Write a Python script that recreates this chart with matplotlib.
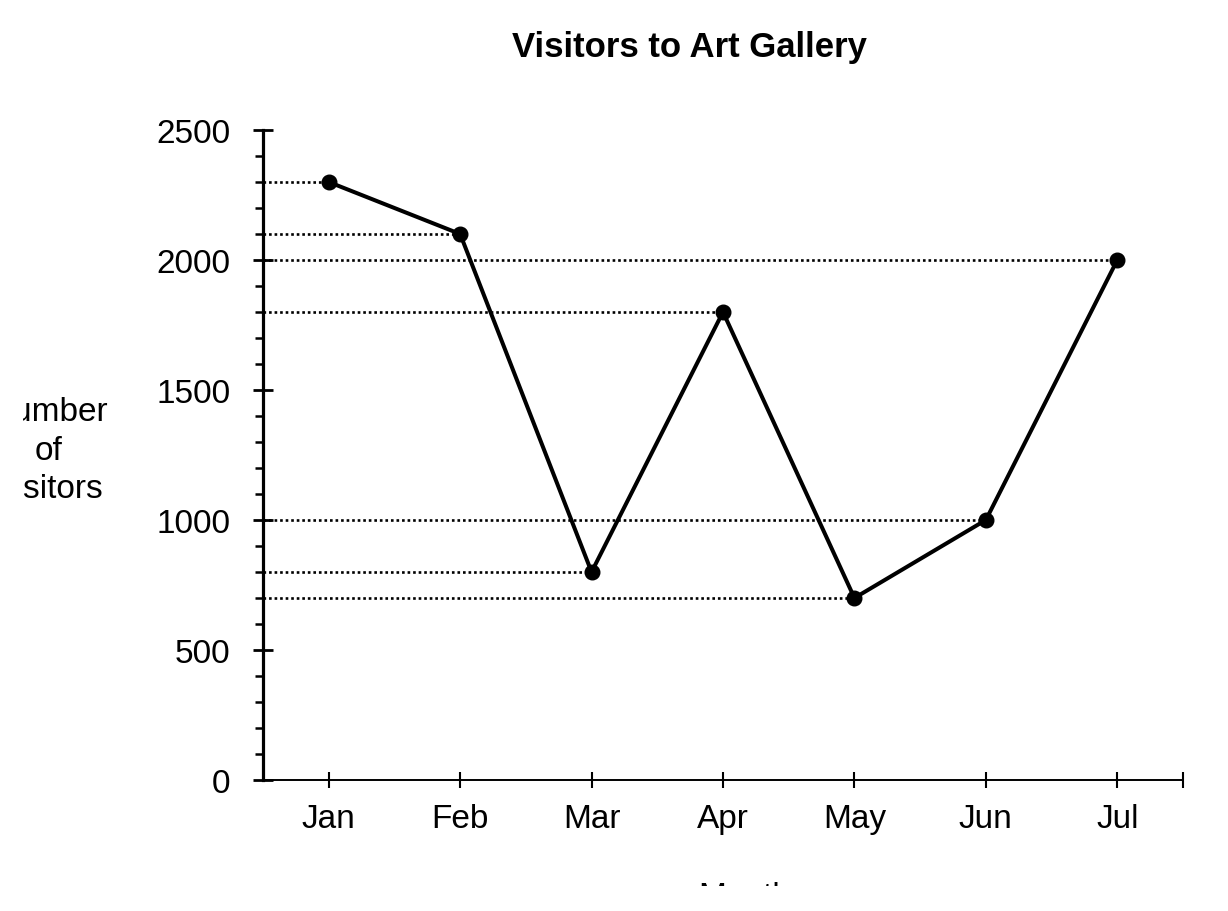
import matplotlib
matplotlib.use("Agg")
import matplotlib.pyplot as plt
from matplotlib.transforms import Bbox

months = ["Jan", "Feb", "Mar", "Apr", "May", "Jun", "Jul"]
visitors = [2300, 2100, 800, 1800, 700, 1000, 2000]
yticks = [0, 500, 1000, 1500, 2000, 2500]
title = "Visitors to Art Gallery"
ylabel = "Number\nof\nVisitors"
xlabel = "Month"

plt.rcParams['font.family'] = ['Liberation Sans', 'DejaVu Sans']

W, H = 1228, 912
fig = plt.figure(figsize=(W / 100, H / 100), dpi=100)
ax = fig.add_axes([263 / W, 131 / H, (1183 - 263) / W, (781 - 131) / H])

x = list(range(len(months)))
ax.set_xlim(-0.5, len(months) - 0.5)
ax.set_ylim(0, 2500)

# dotted guide lines from the y-axis to each point
ax.hlines(visitors, -0.5, x, colors='black', linestyles=(0, (1, 1.1)), linewidth=1.9, zorder=2)

ax.plot(x, visitors, color='black', linewidth=2.9, marker='o', markersize=10.5, zorder=3,
        solid_joinstyle='round')

for s in ['top', 'right']:
    ax.spines[s].set_visible(False)
ax.spines['left'].set_linewidth(2.3)
ax.spines['bottom'].set_linewidth(1.4)

ax.set_yticks(yticks)
ax.set_yticklabels([str(v) for v in yticks])
ax.set_yticks(range(0, 2501, 100), minor=True)
ax.tick_params(axis='y', which='major', direction='inout', length=15, width=2.0,
               labelsize=24, pad=16)
ax.tick_params(axis='y', which='minor', direction='out', length=6, width=1.8)

ax.set_xticks(x)
ax.set_xticklabels(months)
ax.set_xticks([len(months) - 0.5], minor=True)
ax.tick_params(axis='x', which='both', direction='inout', length=11, width=1.5,
               labelsize=24, pad=11)

fig.text(690 / W, 1 - 47 / H, title, ha='center', va='center', fontsize=25, fontweight='bold')

yl = fig.text(49 / W, 1 - 451 / H, ylabel, ha='center', va='center', fontsize=24,
              multialignment='center', linespacing=1.3)
yl.set_clip_box(Bbox.from_extents(23, 0, W, H))
yl.set_clip_on(True)

t = fig.text(745 / W, 1 - 882 / H, xlabel, ha='center', va='top', fontsize=24)
t.set_clip_box(Bbox.from_extents(0, H - 887, W, H))
t.set_clip_on(True)

fig.savefig("out.png", dpi=100)
